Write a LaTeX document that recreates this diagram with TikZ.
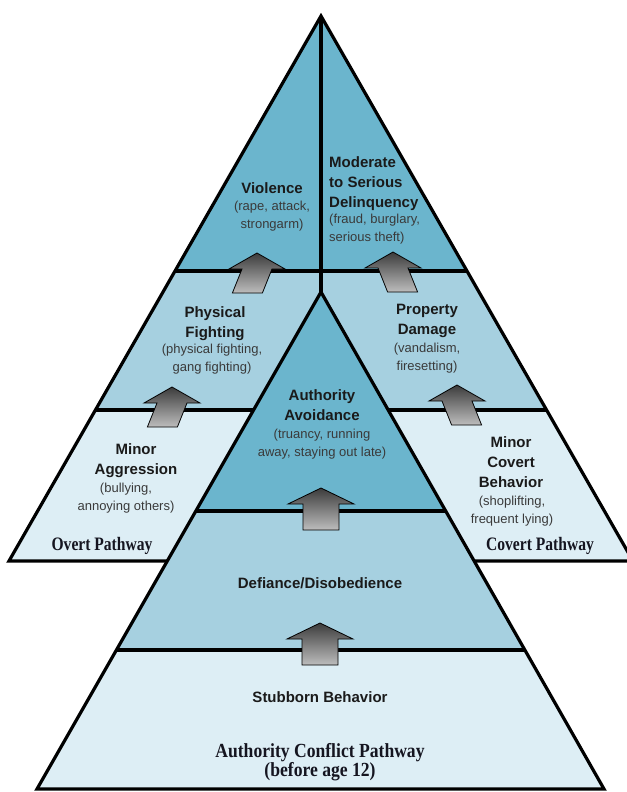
\documentclass[tikz,border=0pt]{standalone}
\usepackage{fontspec}
\setmainfont{Liberation Sans}
\newfontfamily\pathfont[FakeStretch=0.82]{Liberation Serif}
\newfontfamily\basefont[FakeStretch=0.88]{Liberation Serif}
\usetikzlibrary{calc}

\definecolor{tealdark}{HTML}{6BB5CD}
\definecolor{tealmid}{HTML}{A6D0E0}
\definecolor{teallight}{HTML}{DDEEF5}
\definecolor{titlecol}{HTML}{1A1A1A}
\definecolor{subcol}{HTML}{3A3A3A}
\definecolor{pathcol}{HTML}{151520}
\definecolor{arrowtop}{HTML}{3C3C3C}
\definecolor{arrowbot}{HTML}{BDBDBD}

\tikzset{
  edge/.style={line width=3.2bp, line join=miter, draw=black},
  ttl/.style={font=\fontsize{15bp}{20bp}\selectfont\bfseries, text=titlecol, inner sep=0pt, align=center},
  sub/.style={font=\fontsize{13bp}{18bp}\selectfont, text=subcol, inner sep=0pt, align=center},
  pathlbl/.style={font=\pathfont\bfseries\fontsize{19bp}{22bp}\selectfont, text=pathcol, inner sep=0pt},
  baselbl/.style={font=\basefont\bfseries\fontsize{20bp}{18bp}\selectfont, text=pathcol, inner sep=0pt, align=center},
  arrowbody/.style={draw=black, line width=0.8bp, line join=miter, top color=arrowtop, bottom color=arrowbot},
  % block arrow: head half-width, shaft half-width, shear of the shaft, shaft length
  pics/blockarrow/.style n args={4}{code={
    \path[arrowbody] (0,0) -- (#1,16) -- (#2,16) -- ({#2+(#3)*(#4)},{16+#4})
      -- ({-#2+(#3)*(#4)},{16+#4}) -- (-#2,16) -- (-#1,16) -- cycle;
  }}
}

\begin{document}
\begin{tikzpicture}[x=1bp,y=-1bp]
\useasboundingbox (0,0) rectangle (627,792);
\clip (0,0) rectangle (627,792);

% outer pyramid: overt (left) and covert (right) pathways
\coordinate (A) at (321,16);
\coordinate (BL) at (9,561);
\coordinate (BR) at (633,561);
\coordinate (L1) at ($(A)!0.4679!(BL)$);
\coordinate (R1) at ($(A)!0.4679!(BR)$);
\coordinate (L2) at ($(A)!0.7229!(BL)$);
\coordinate (R2) at ($(A)!0.7229!(BR)$);

% inner pyramid: authority conflict pathway
\coordinate (I) at (321,292);
\coordinate (IL) at (37,789);
\coordinate (IR) at (604,789);
\coordinate (IL1) at ($(I)!0.4406!(IL)$);
\coordinate (IR1) at ($(I)!0.4406!(IR)$);
\coordinate (IL2) at ($(I)!0.7203!(IL)$);
\coordinate (IR2) at ($(I)!0.7203!(IR)$);

\fill[tealdark] (A) -- (L1) -- (R1) -- cycle;
\fill[tealmid] (L1) -- (R1) -- (R2) -- (L2) -- cycle;
\fill[teallight] (L2) -- (R2) -- (BR) -- (BL) -- cycle;
\draw[edge] (L1) -- (R1) (L2) -- (R2) (A) -- (I);
\draw[edge] (BL) -- (A) -- (BR) -- cycle;

\fill[tealdark] (I) -- (IL1) -- (IR1) -- cycle;
\fill[tealmid] (IL1) -- (IR1) -- (IR2) -- (IL2) -- cycle;
\fill[teallight] (IL2) -- (IR2) -- (IR) -- (IL) -- cycle;
\draw[edge] (IL1) -- (IR1) (IL2) -- (IR2);
\draw[edge] (IL) -- (I) -- (IR) -- cycle;

% upward block arrows between stages
\pic (arrOvA) at (257,253) {blockarrow={28}{15}{-0.4}{24}};
\pic (arrCvA) at (393,252) {blockarrow={28}{15}{0.4}{24}};
\pic (arrOvB) at (172,387) {blockarrow={28}{15}{-0.4}{24}};
\pic (arrCvB) at (457,385) {blockarrow={28}{15}{0.4}{24}};
\pic (arrAcA) at (321,488) {blockarrow={33}{18}{0}{26}};
\pic (arrAcB) at (320,623) {blockarrow={33}{18}{0}{26}};

% stage labels
\node[ttl, anchor=north] (vioT) at (272,182.4) {Violence};
\node[sub, anchor=north] (vioS) at (272,201) {(rape, attack,\\strongarm)};

\node[ttl, anchor=north west, align=left] (delT) at (329,156.4) {Moderate\\to Serious\\Delinquency};
\node[sub, anchor=north west, align=left] (delS) at (329,214) {(fraud, burglary,\\serious theft)};

\node[ttl, anchor=north] (phyT) at (215,306.4) {Physical\\Fighting};
\node[sub, anchor=north] (phyS) at (212,344) {(physical fighting,\\gang fighting)};

\node[ttl, anchor=north] (proT) at (427,304.4) {Property\\Damage};
\node[sub, anchor=north] (proS) at (427,343) {(vandalism,\\firesetting)};

\node[ttl, anchor=north] (minT) at (136,443.4) {Minor\\Aggression};
\node[sub, anchor=north] (minS) at (126,483) {(bullying,\\annoying others)};

\node[ttl, anchor=north] (avoT) at (322,389.4) {Authority\\Avoidance};
\node[sub, anchor=north] (avoS) at (322,429) {(truancy, running\\away, staying out late)};

\node[ttl, anchor=north] (covT) at (511,436.4) {Minor\\Covert\\Behavior};
\node[sub, anchor=north] (covS) at (512,496) {(shoplifting,\\frequent lying)};

\node[ttl, anchor=base] (defT) at (320,588.4) {Defiance/Disobedience};
\node[ttl, anchor=base] (stuT) at (320,702.4) {Stubborn Behavior};

% pathway names
\node[pathlbl, anchor=base] (overt) at (102,550) {Overt Pathway};
\node[pathlbl, anchor=base] (covert) at (540,550) {Covert Pathway};
\node[baselbl, anchor=north] (acp) at (320,743) {Authority Conflict Pathway\\(before age 12)};
\end{tikzpicture}
\end{document}
